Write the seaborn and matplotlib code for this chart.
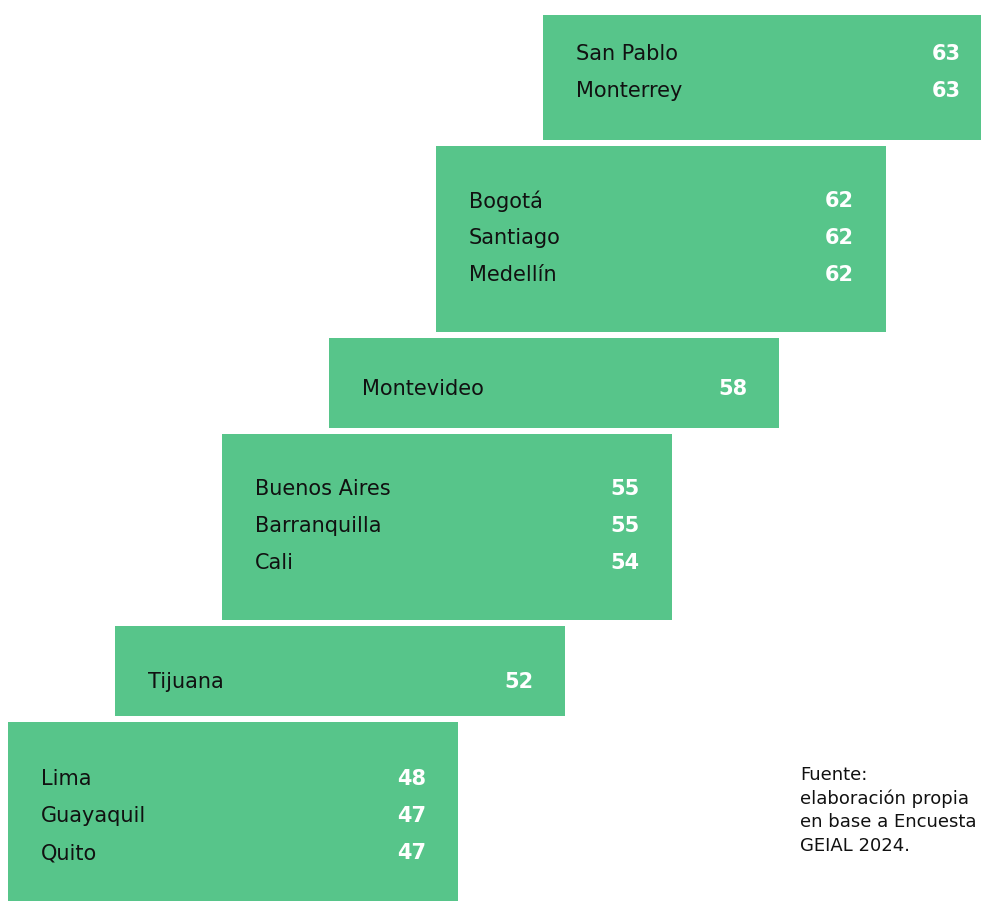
import matplotlib
matplotlib.use("Agg")
import matplotlib.pyplot as plt
import seaborn as sns

# datos
ciudades = ["San Pablo", "Monterrey", "Bogotá", "Santiago", "Medellín", "Montevideo",
            "Buenos Aires", "Barranquilla", "Cali", "Tijuana", "Lima", "Guayaquil", "Quito"]
puntajes = [63, 63, 62, 62, 62, 58, 55, 55, 54, 52, 48, 47, 47]
escalon = [0, 0, 1, 1, 1, 2, 3, 3, 3, 4, 5, 5, 5]
fuente = "Fuente:\nelaboración propia\nen base a Encuesta\nGEIAL 2024."

# layout de los escalones (pixeles)
caja_top = [15, 146, 338, 434, 626, 722]
caja_alto = [125, 186, 90, 186, 90, 182]
texto_off = [-5, -1, 6, -1, 11, 3]
paso_x = 107
izq0 = 8
ancho = 450
fila = 37
verde = "#57C58A"

sns.set_theme(style="white")
plt.rcParams["font.family"] = ["DejaVu Sans"]

fig = plt.figure(figsize=(9.81, 9.01), dpi=100)
ax = fig.add_axes([0, 0, 1, 1])
ax.set_xlim(0, 981)
ax.set_ylim(901, 0)
ax.axis("off")

n_esc = len(caja_top)
lefts = [izq0 + (n_esc - 1 - i) * paso_x for i in range(n_esc)]
centros = [caja_top[i] + caja_alto[i] / 2 for i in range(n_esc)]
ax.barh(centros, [ancho] * n_esc, left=lefts, height=caja_alto, color=verde, linewidth=0)

for i in range(n_esc):
    idx = [k for k, e in enumerate(escalon) if e == i]
    n = len(idx)
    for j, k in enumerate(idx):
        y = centros[i] + texto_off[i] + (j - (n - 1) / 2) * fila
        ax.text(lefts[i] + 33, y, ciudades[k], fontsize=15, color="#111111",
                va="center", ha="left")
        ax.text(lefts[i] + 418, y, str(puntajes[k]), fontsize=15, color="white",
                fontweight="bold", va="center", ha="right")

ax.text(800, 766, fuente, fontsize=13, color="#111111", va="top", ha="left",
        linespacing=1.38)

fig.savefig("out.png", dpi=100)
